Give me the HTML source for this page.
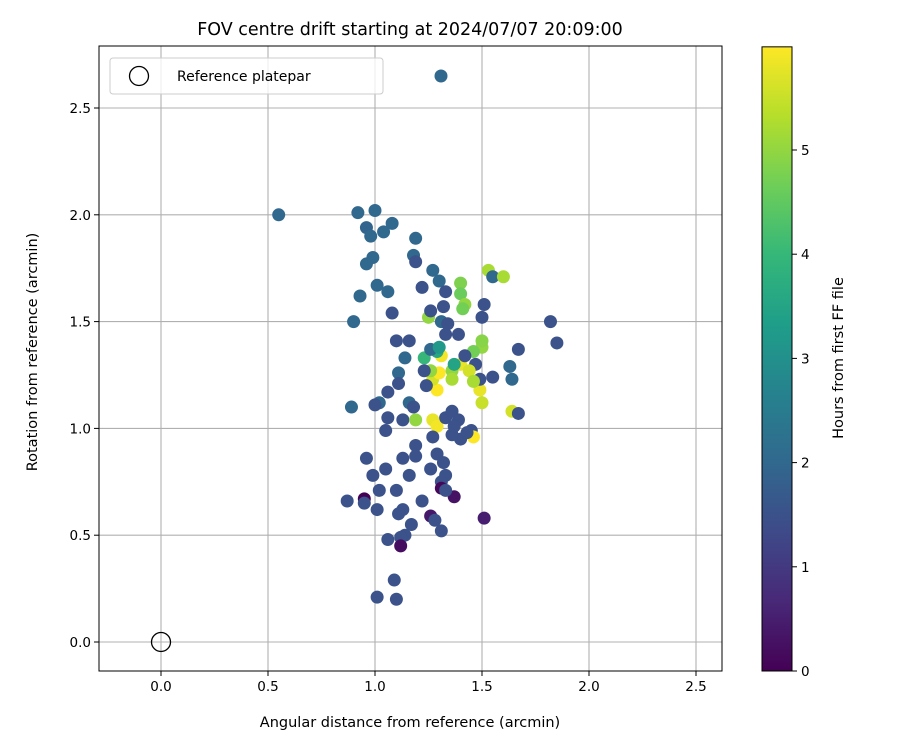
<!DOCTYPE html>
<html><head><meta charset="utf-8"><style>
body{margin:0;background:#fff;}
svg text{font-family:"DejaVu Sans","Liberation Sans",sans-serif;fill:#000;}
</style></head><body>
<svg id="chart" width="900" height="750" viewBox="0 0 900 750" xmlns="http://www.w3.org/2000/svg">
<defs><linearGradient id="vir" x1="0" y1="1" x2="0" y2="0"></linearGradient></defs>
<text x="410" y="35" font-size="17.5" text-anchor="middle">FOV centre drift starting at 2024/07/07 20:09:00</text>
<g id="plot"></g>
</svg>
<script>
const xTicks=[0,0.5,1.0,1.5,2.0,2.5];
const yTicks=[0,0.5,1.0,1.5,2.0,2.5];
const cTicks=[0,1,2,3,4,5];
const xs=[0.55,0.92,1.00,1.08,0.96,0.98,1.04,1.19,1.18,1.19,0.96,0.99,1.27,1.30,1.22,1.01,1.06,0.93,1.08,1.33,1.32,0.90,1.25,1.31,1.26,1.40,1.40,1.42,1.41,1.53,1.55,1.60,1.51,1.50,1.82,1.85,1.67,1.63,1.64,1.55,1.50,1.50,1.47,1.10,1.16,1.14,1.11,1.11,1.06,1.02,0.89,1.00,1.06,1.05,1.13,1.16,1.18,1.19,1.27,1.29,1.27,1.33,1.36,1.39,1.45,1.46,1.40,1.36,1.43,1.64,1.67,1.29,1.27,1.49,1.50,1.49,1.40,1.31,1.44,1.30,1.26,1.23,1.29,1.36,1.46,1.42,1.36,1.46,1.24,1.23,1.26,1.30,1.37,1.33,1.39,1.34,1.19,1.13,1.19,1.29,1.32,1.26,1.33,1.31,1.31,1.37,1.33,1.22,1.26,1.28,1.17,1.31,1.14,1.12,1.13,1.05,0.99,1.10,1.02,0.96,1.16,0.87,0.95,0.95,1.01,1.11,1.06,1.12,1.09,1.01,1.10,1.51,1.37];
const ys=[2.00,2.01,2.02,1.96,1.94,1.90,1.92,1.89,1.81,1.78,1.77,1.80,1.74,1.69,1.66,1.67,1.64,1.62,1.54,1.64,1.57,1.50,1.52,1.50,1.55,1.68,1.63,1.58,1.56,1.74,1.71,1.71,1.58,1.52,1.50,1.40,1.37,1.29,1.23,1.24,1.38,1.41,1.30,1.41,1.41,1.33,1.26,1.21,1.17,1.12,1.10,1.11,1.05,0.99,1.04,1.12,1.10,1.04,1.04,1.01,0.96,1.05,1.08,1.04,0.99,0.96,0.95,0.97,0.98,1.08,1.07,1.18,1.23,1.18,1.12,1.23,1.30,1.34,1.27,1.26,1.27,1.33,1.36,1.27,1.36,1.34,1.23,1.22,1.20,1.27,1.37,1.38,1.30,1.44,1.44,1.49,0.92,0.86,0.87,0.88,0.84,0.81,0.78,0.75,0.72,0.68,0.71,0.66,0.59,0.57,0.55,0.52,0.50,0.49,0.62,0.81,0.78,0.71,0.71,0.86,0.78,0.66,0.67,0.65,0.62,0.60,0.48,0.45,0.29,0.21,0.20,0.58,1.01];
const hours=[2.0,2.0,2.0,2.0,1.9,2.0,2.0,2.0,2.0,1.5,2.0,2.0,2.0,2.0,1.5,2.0,2.0,2.0,1.5,1.5,1.5,2.0,5.0,2.0,1.5,4.8,4.6,5.0,4.7,5.2,2.0,5.2,1.5,1.5,1.5,1.5,1.5,2.0,2.0,1.5,5.0,4.9,1.5,1.5,1.5,2.0,2.0,1.5,1.5,2.0,2.0,1.5,1.5,1.5,1.5,2.0,1.5,5.0,5.8,5.9,1.5,1.5,1.5,1.5,1.5,6.0,1.5,1.5,1.5,5.6,1.5,6.0,5.6,5.8,5.5,1.5,5.8,5.9,5.6,6.0,5.0,4.0,3.6,5.0,4.7,1.5,5.2,5.2,1.5,1.5,2.0,3.2,3.5,1.5,1.5,1.5,1.5,1.5,1.5,1.5,1.5,1.5,1.5,1.5,0.1,0.3,1.5,1.5,0.4,1.5,1.5,1.5,1.5,1.5,1.5,1.5,1.5,1.5,1.5,1.5,1.5,1.5,0.0,1.5,1.5,1.5,1.5,0.2,1.5,1.5,1.5,0.5,1.5,1.5];
const hMax=5.99;

const L=99,R=722,T=46,B=671;
const X=v=>161+v*214, Y=v=>642-v*213.6;
const CB={x:762,w:30}, CY=v=>671-v*104.2;
const vir=[[68,1,84],[72,40,120],[62,74,137],[49,104,142],[38,130,142],[31,158,137],[53,183,121],[110,206,88],[181,222,43],[253,231,37]];
function col(h){let t=Math.max(0,Math.min(1,h/hMax))*(vir.length-1);let i=Math.min(vir.length-2,Math.floor(t)),f=t-i;const c=vir[i].map((a,k)=>Math.round(a+(vir[i+1][k]-a)*f));return `rgb(${c})`;}
const NS='http://www.w3.org/2000/svg',g=document.getElementById('plot');
function mk(t,a,p){const e=document.createElementNS(NS,t);for(const k in a)e.setAttribute(k,a[k]);(p||g).appendChild(e);return e;}
xTicks.forEach(v=>{const e=mk('line',{x1:X(v),x2:X(v),y1:T,y2:B,stroke:'#b0b0b0','stroke-width':1.1});


const tk=mk('line',{x1:X(v),x2:X(v),y1:B,y2:B+5,stroke:'#000'});


const t=mk('text',{x:X(v),y:B+20,'font-size':13.5,'text-anchor':'middle'});t.textContent=v.toFixed(1);

});
yTicks.forEach(v=>{const e=mk('line',{x1:L,x2:R,y1:Y(v),y2:Y(v),stroke:'#b0b0b0','stroke-width':1.1});


const tk=mk('line',{x1:L-5,x2:L,y1:Y(v),y2:Y(v),stroke:'#000'});


const t=mk('text',{x:L-8,y:Y(v)+5,'font-size':13.5,'text-anchor':'end'});t.textContent=v.toFixed(1);

});
xs.forEach((x,i)=>{const c=mk('circle',{cx:X(x),cy:Y(ys[i]),r:6.5,fill:col(hours[i])});

});
const ref=mk('circle',{cx:X(0),cy:Y(0),r:9.5,fill:'none',stroke:'#000','stroke-width':1.3});


const fr=mk('rect',{x:L,y:T,width:R-L,height:B-T,fill:'none',stroke:'#000','stroke-width':1});


const lg=mk('g',{});


mk('rect',{x:110,y:58,width:273,height:36,rx:3,fill:'#fff','fill-opacity':0.8,stroke:'#ccc'},lg);
mk('circle',{cx:139,cy:76,r:9.5,fill:'none',stroke:'#000','stroke-width':1.3},lg);
const lt=mk('text',{x:177,y:81,'font-size':14},lg);lt.textContent='Reference platepar';
mk('circle',{cx:441,cy:76,r:6.5,fill:col(2)});
const xt=mk('text',{x:410,y:727,'font-size':14.5,'text-anchor':'middle'});xt.textContent='Angular distance from reference (arcmin)';


const yt=mk('text',{x:37,y:352,'font-size':14.5,'text-anchor':'middle',transform:'rotate(-90 37 352)'});yt.textContent='Rotation from reference (arcmin)';


const grad=document.getElementById('vir');
vir.forEach((c,i)=>mk('stop',{offset:i/(vir.length-1),'stop-color':`rgb(${c})`},grad));
const cb=mk('rect',{x:CB.x,y:CY(hMax),width:CB.w,height:CY(0)-CY(hMax),fill:'url(#vir)',stroke:'#000'});


cTicks.forEach(v=>{const tk=mk('line',{x1:CB.x+CB.w,x2:CB.x+CB.w+5,y1:CY(v),y2:CY(v),stroke:'#000'});


const t=mk('text',{x:CB.x+CB.w+9,y:CY(v)+5,'font-size':13.5});t.textContent=v;

});
const ct=mk('text',{x:843,y:358,'font-size':14.5,'text-anchor':'middle',transform:'rotate(-90 843 358)'});ct.textContent='Hours from first FF file';


</script>
</body></html>
